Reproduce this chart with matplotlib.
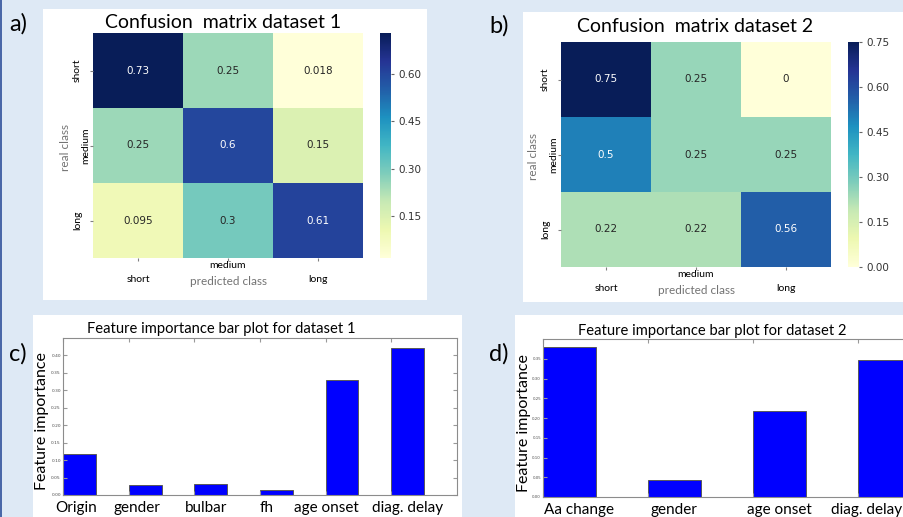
import matplotlib
matplotlib.use("Agg")
import matplotlib.pyplot as plt
from matplotlib.patches import Rectangle
from matplotlib.transforms import ScaledTranslation
import numpy as np
import pandas as pd
import seaborn as sns

# data
classes = ["short", "medium", "long"]
cm1 = [[0.73, 0.25, 0.018],
       [0.25, 0.6, 0.15],
       [0.095, 0.3, 0.61]]
cm2 = [[0.75, 0.25, 0],
       [0.5, 0.25, 0.25],
       [0.22, 0.22, 0.56]]
cbar1_ticks = [0.15, 0.30, 0.45, 0.60]
cbar2_ticks = [0.00, 0.15, 0.30, 0.45, 0.60, 0.75]

feat1 = ["Origin", "gender", "bulbar", "fh", "age onset", "diag. delay"]
imp1 = [0.117, 0.029, 0.031, 0.015, 0.331, 0.42]
feat2 = ["Aa change", "gender", "age onset", "diag. delay"]
imp2 = [0.38, 0.0435, 0.218, 0.346]

W, H = 904, 517
BG = "#dee9f5"
PPT_FONT = "Lato"


def px(l, t, r, b):
    # pixel box -> figure fraction rect
    return [l / W, 1 - b / H, (r - l) / W, (b - t) / H]


fig = plt.figure(figsize=(W / 100, H / 100), dpi=100, facecolor=BG)

# white panel backgrounds
for l, t, r, b in [(43, 9, 427, 300), (523, 12, 910, 302),
                   (33, 315, 462, 520), (515, 315, 910, 520)]:
    x, y, w, h = px(l, t, r, b)
    fig.patches.append(Rectangle((x, y), w, h, transform=fig.transFigure,
                                 facecolor="white", edgecolor="none", zorder=-5))
# dark left border line
fig.patches.append(Rectangle((0, 0), 2.5 / W, 1, transform=fig.transFigure,
                             facecolor="#4a68a8", edgecolor="none", zorder=-5))


def confusion(ax_box, cb_box, cm, ticks, title, title_xy, letter, letter_xy):
    ax = fig.add_axes(px(*ax_box))
    cax = fig.add_axes(px(*cb_box))
    df = pd.DataFrame(cm, index=classes, columns=classes)
    sns.heatmap(df, ax=ax, cbar_ax=cax, cmap="YlGnBu", annot=True,
                annot_kws={"size": 7.5})
    ax.set_xlabel("predicted class", fontsize=8.5, color="0.45", family=PPT_FONT)
    ax.set_ylabel("real class", fontsize=8.5, color="0.45", family=PPT_FONT)
    ax.xaxis.set_label_coords(0.5, -0.082)
    ax.yaxis.set_label_coords(-0.08, 0.49)
    ax.tick_params(axis="both", length=2, color="0.5")
    ax.set_xticklabels(classes, fontsize=7.5, family=PPT_FONT, rotation=0)
    ax.set_yticklabels(classes, fontsize=7.5, family=PPT_FONT, rotation=90, va="center")
    for i, tk in enumerate(ax.xaxis.get_major_ticks()):
        tk.set_pad(0.5 if i == 1 else 10.5)
    for i, tk in enumerate(ax.yaxis.get_major_ticks()):
        tk.set_pad(0 if i == 1 else 6)
    cax.set_yticks(ticks)
    cax.set_yticklabels([f"{t:.2f}" for t in ticks])
    cax.tick_params(labelsize=7.5, length=2, color="0.4", labelcolor="0.2")
    fig.text(title_xy[0] / W, 1 - title_xy[1] / H, title, ha="center",
             va="center", fontsize=14, family=PPT_FONT)
    fig.text(letter_xy[0] / W, 1 - letter_xy[1] / H, letter, ha="left",
             va="center", fontsize=17, family=PPT_FONT)


confusion((93, 33, 363, 258), (380, 33, 391, 258), cm1, cbar1_ticks,
          "Confusion  matrix dataset 1", (223, 22), "a)", (9, 24))
confusion((561, 42, 831, 267), (848, 42, 859, 267), cm2, cbar2_ticks,
          "Confusion  matrix dataset 2", (695, 26), "b)", (489, 26))


def importance(ax_box, names, vals, ymax, title, title_xy, letter, letter_xy,
               lab_x, tick_size, shifts):
    ax = fig.add_axes(px(*ax_box))
    pos = np.arange(len(names))
    ax.bar(pos, vals, width=0.5, align="edge", color="#0000ff",
           edgecolor="0.35", linewidth=0.7)
    ax.set_xlim(0, len(names))
    ax.set_ylim(0, ymax)
    yt = np.arange(0, ymax - 0.049, 0.05)
    ax.set_yticks(yt)
    ax.set_yticklabels([f"{v:.2f}" for v in yt])
    ax.set_xticks(pos)
    ax.set_xticklabels([])
    ax.set_xticks(pos + 0.25, minor=True)
    ax.set_xticklabels(names, minor=True, fontsize=11, family=PPT_FONT)
    ax.tick_params(axis="x", which="minor", length=0, pad=4)
    ax.tick_params(axis="both", which="major", direction="in", length=3,
                   color="0.6", top=True, right=True, labelsize=tick_size,
                   labelcolor="0.3", pad=1.5)
    # the pasted labels sit a little off the bar centres in the original
    for lab, dx in zip(ax.get_xticklabels(minor=True), shifts):
        lab.set_transform(lab.get_transform() +
                          ScaledTranslation(dx / 100, 0, fig.dpi_scale_trans))
    for s in ax.spines.values():
        s.set_color("0.55")
        s.set_linewidth(0.8)
    ax.set_ylabel("Feature importance", fontsize=11.5, family=PPT_FONT)
    ax.yaxis.set_label_coords(lab_x, 0.47)
    fig.text(title_xy[0] / W, 1 - title_xy[1] / H, title, ha="center",
             va="center", fontsize=10.6, family=PPT_FONT)
    fig.text(letter_xy[0] / W, 1 - letter_xy[1] / H, letter, ha="left",
             va="center", fontsize=17, family=PPT_FONT)


importance((63, 338, 457, 495), feat1, imp1, 0.45,
           "Feature importance bar plot for dataset 1", (221, 329), "c)", (9, 354),
           -0.035, 3.2, [-3, -8, -5, -10, -16, 0])
importance((543, 339, 963, 497), feat2, imp2, 0.40,
           "Feature importance bar plot for dataset 2", (712, 331), "d)", (489, 354),
           -0.028, 2.8, [10, 0, 0, -18])

fig.savefig("out.png", dpi=100, facecolor=BG)
